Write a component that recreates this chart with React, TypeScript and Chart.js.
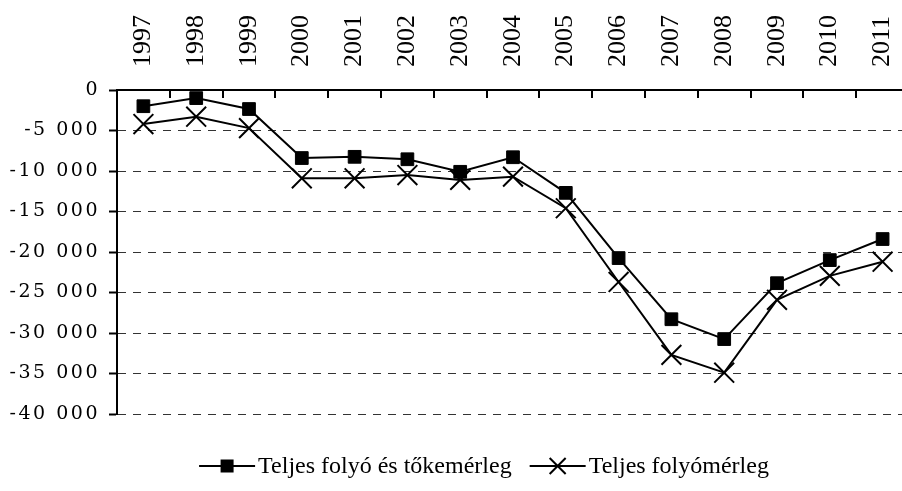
import React, { useEffect, useRef } from "react";
import { Chart, registerables } from "chart.js";

Chart.register(...registerables);

// ---- data ----
const years = ["1997", "1998", "1999", "2000", "2001", "2002", "2003", "2004", "2005", "2006", "2007", "2008", "2009", "2010", "2011"];
const seriesNames = ["Teljes folyó és tőkemérleg", "Teljes folyómérleg"];
const currentAndCapital = [-2000, -1000, -2350, -8400, -8250, -8550, -10100, -8300, -12700, -20750, -28300, -30750, -23850, -21000, -18400];
const currentAccount = [-4200, -3300, -4700, -10900, -10900, -10500, -11100, -10700, -14600, -23700, -32700, -34900, -25900, -22950, -21200];
const yMin = -40000;
const yMax = 0;
const yStep = 5000;

function formatThousands(v: number): string {
  const abs = Math.abs(Math.round(v));
  const s = abs.toString().replace(/\B(?=(\d{3})+(?!\d))/g, " ");
  return (v < 0 ? "-" : "") + s;
}

const CANVAS_W = 909;
const CANVAS_H = 491;
const LEGEND_FONT = "24px 'Liberation Serif', 'Times New Roman', serif";

// wider-set y-axis numbers (applied only while the z<=0 layers are drawn)
const ySpacing = {
  id: "ySpacing",
  beforeDraw(chart: any) {
    (chart.ctx as any).letterSpacing = "2.5px";
  },
  beforeDatasetsDraw(chart: any) {
    (chart.ctx as any).letterSpacing = "0px";
  },
};

// legend drawn on the canvas: line + marker symbol followed by the series name
const bottomLegend = {
  id: "bottomLegend",
  afterDraw(chart: any) {
    const ctx = chart.ctx;
    const cy = 466;
    const symW = 56;
    const gapText = 3;
    const gapItems = 18;
    ctx.save();
    (ctx as any).letterSpacing = "0px";
    ctx.font = LEGEND_FONT;
    const names = chart.data.datasets.map((d: any) => d.label as string);
    const widths = names.map((n: string) => ctx.measureText(n).width);
    const total = names.length * (symW + gapText) + widths.reduce((a: number, b: number) => a + b, 0) + gapItems * (names.length - 1);
    let x = 484 - total / 2;
    names.forEach((name: string, i: number) => {
      ctx.strokeStyle = "#000";
      ctx.fillStyle = "#000";
      ctx.lineWidth = 2;
      ctx.beginPath();
      ctx.moveTo(x, cy);
      ctx.lineTo(x + symW, cy);
      ctx.stroke();
      const mx = x + symW / 2;
      if (i === 0) {
        ctx.fillRect(mx - 6.5, cy - 6.5, 13, 13);
      } else {
        const h = 8;
        ctx.beginPath();
        ctx.moveTo(mx - h, cy - h);
        ctx.lineTo(mx + h, cy + h);
        ctx.moveTo(mx + h, cy - h);
        ctx.lineTo(mx - h, cy + h);
        ctx.stroke();
      }
      x += symW + gapText;
      ctx.textAlign = "left";
      ctx.textBaseline = "middle";
      ctx.fillText(name, x, cy + 1);
      x += widths[i] + gapItems;
    });
    ctx.restore();
  },
};

// short tick marks pointing down into the plot at the category boundaries
const innerTicks = {
  id: "innerTicks",
  afterDraw(chart: any) {
    const xs = chart.scales.x;
    const top = chart.chartArea.top;
    const ctx = chart.ctx;
    ctx.save();
    ctx.strokeStyle = "#000";
    ctx.lineWidth = 2;
    ctx.beginPath();
    for (let i = 1; i <= years.length; i++) {
      const x = Math.round(xs.getPixelForValue(i - 0.5));
      ctx.moveTo(x, top);
      ctx.lineTo(x, top + 8);
    }
    ctx.stroke();
    ctx.restore();
  },
};

export default function App() {
  const canvasRef = useRef<HTMLCanvasElement | null>(null);

  useEffect(() => {
    if (!canvasRef.current) return;
    const chart = new Chart(canvasRef.current, {
      type: "line",
      data: {
        labels: years,
        datasets: [
          {
            label: seriesNames[0],
            data: currentAndCapital,
            borderColor: "#000",
            backgroundColor: "#000",
            borderWidth: 2,
            tension: 0,
            pointStyle: "rect",
            pointRadius: 9,
            pointBackgroundColor: "#000",
            pointBorderColor: "#000",
            pointBorderWidth: 1,
          },
          {
            label: seriesNames[1],
            data: currentAccount,
            borderColor: "#000",
            backgroundColor: "#000",
            borderWidth: 2,
            tension: 0,
            pointStyle: "crossRot",
            pointRadius: 14,
            pointBorderColor: "#000",
            pointBorderWidth: 2,
          },
        ],
      },
      options: {
        animation: false,
        responsive: false,
        devicePixelRatio: 1,
        events: [],
        layout: { autoPadding: false, padding: { left: 0, right: 0, top: 0, bottom: 77 } },
        scales: {
          x: {
            position: "top",
            offset: true,
            grid: { display: true, drawOnChartArea: false, drawTicks: false },
            border: { display: true, color: "#000", width: 2 },
            ticks: {
              z: 1,
              color: "#000",
              font: { family: "'Liberation Serif', 'Times New Roman', serif", size: 26 },
              padding: 23,
              minRotation: 90,
              maxRotation: 90,
              autoSkip: false,
              labelOffset: 31,
            },
            afterFit: (s: any) => {
              s.height = 90;
              s.paddingLeft = 0;
              s.paddingRight = 0;
            },
          },
          y: {
            min: yMin,
            max: yMax,
            grid: {
              color: "#333",
              lineWidth: 1,
              tickLength: 8,
              tickColor: "#000",
              tickWidth: 2,
              tickBorderDash: [],
            },
            border: { display: true, color: "#000", width: 2, dash: [8, 7] },
            ticks: {
              stepSize: yStep,
              color: "#000",
              padding: 9,
              font: { family: "'DejaVu Serif', serif", size: 19 },
              callback: (v: any) => formatThousands(Number(v)),
            },
            afterFit: (s: any) => {
              s.width = 117;
            },
          },
        },
        plugins: {
          tooltip: { enabled: false },
          title: { display: false },
          legend: { display: false },
        },
      },
      plugins: [ySpacing, innerTicks, bottomLegend],
    });
    return () => chart.destroy();
  }, []);

  return (
    <div style={{ position: "fixed", left: 0, top: 0, width: 902, height: 491, overflow: "hidden", background: "#fff" }}>
      <canvas ref={canvasRef} width={CANVAS_W} height={CANVAS_H} style={{ display: "block", width: CANVAS_W, height: CANVAS_H }} />
    </div>
  );
}
